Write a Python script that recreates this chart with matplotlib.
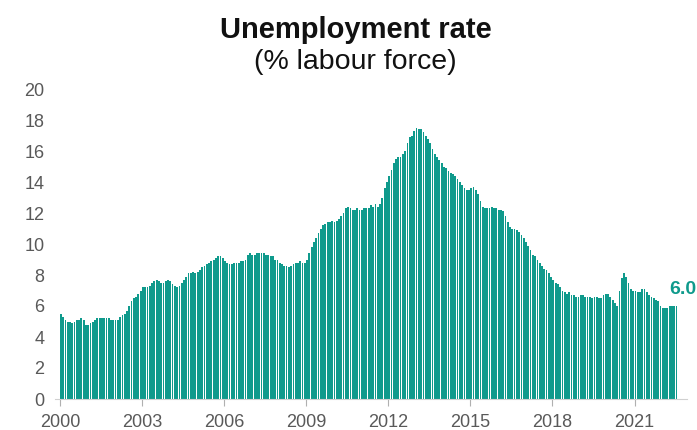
import matplotlib
matplotlib.use("Agg")
import matplotlib.pyplot as plt
import numpy as np

plt.rcParams['font.family'] = ['Liberation Sans', 'DejaVu Sans']

# monthly unemployment rate, Jan 2000 - Jul 2022 (% labour force)
rate_2000 = [5.5, 5.3, 5.1, 5.0, 5.0, 4.9, 5.0, 5.1, 5.1, 5.2, 5.1, 4.8]
rate_2001 = [4.8, 4.9, 5.0, 5.1, 5.2, 5.2, 5.2, 5.2, 5.2, 5.2, 5.1, 5.1]
rate_2002 = [5.1, 5.1, 5.3, 5.4, 5.5, 5.7, 6.0, 6.3, 6.5, 6.6, 6.8, 7.0]
rate_2003 = [7.2, 7.2, 7.2, 7.3, 7.5, 7.6, 7.7, 7.6, 7.5, 7.5, 7.6, 7.7]
rate_2004 = [7.6, 7.4, 7.3, 7.2, 7.3, 7.5, 7.7, 7.9, 8.1, 8.1, 8.2, 8.1]
rate_2005 = [8.2, 8.3, 8.5, 8.6, 8.7, 8.8, 8.9, 9.0, 9.1, 9.2, 9.2, 9.1]
rate_2006 = [8.9, 8.8, 8.7, 8.7, 8.8, 8.8, 8.8, 8.9, 8.9, 9.0, 9.3, 9.4]
rate_2007 = [9.3, 9.3, 9.4, 9.4, 9.4, 9.4, 9.3, 9.3, 9.2, 9.2, 9.0, 9.0]
rate_2008 = [8.8, 8.7, 8.6, 8.6, 8.5, 8.6, 8.7, 8.8, 8.8, 8.9, 8.8, 8.8]
rate_2009 = [9.0, 9.4, 9.8, 10.1, 10.4, 10.7, 11.0, 11.2, 11.3, 11.4, 11.4, 11.5]
rate_2010 = [11.4, 11.5, 11.6, 11.8, 12.0, 12.3, 12.4, 12.3, 12.2, 12.2, 12.3, 12.2]
rate_2011 = [12.2, 12.3, 12.3, 12.3, 12.5, 12.4, 12.6, 12.4, 12.6, 13.0, 13.6, 14.0]
rate_2012 = [14.4, 14.8, 15.2, 15.5, 15.6, 15.6, 15.8, 16.0, 16.5, 16.9, 17.0, 17.3]
rate_2013 = [17.5, 17.4, 17.4, 17.2, 17.0, 16.8, 16.5, 16.1, 15.8, 15.6, 15.4, 15.2]
rate_2014 = [15.0, 14.9, 14.7, 14.6, 14.5, 14.4, 14.2, 14.0, 13.8, 13.6, 13.5, 13.5]
rate_2015 = [13.6, 13.7, 13.5, 13.2, 12.8, 12.4, 12.3, 12.3, 12.3, 12.4, 12.3, 12.3]
rate_2016 = [12.2, 12.2, 12.1, 11.8, 11.4, 11.1, 11.0, 11.0, 10.9, 10.8, 10.6, 10.4]
rate_2017 = [10.1, 9.9, 9.6, 9.3, 9.2, 9.0, 8.8, 8.6, 8.4, 8.3, 8.1, 7.9]
rate_2018 = [7.7, 7.5, 7.4, 7.2, 7.0, 6.9, 6.8, 6.9, 6.7, 6.7, 6.6, 6.6]
rate_2019 = [6.7, 6.7, 6.6, 6.6, 6.6, 6.5, 6.6, 6.6, 6.5, 6.5, 6.7, 6.8]
rate_2020 = [6.8, 6.6, 6.4, 6.2, 6.0, 7.0, 7.8, 8.1, 7.9, 7.5, 7.1, 7.0]
rate_2021 = [7.0, 6.9, 6.9, 7.1, 7.1, 6.9, 6.7, 6.6, 6.5, 6.4, 6.3, 6.0]
rate_2022 = [5.9, 5.9, 5.9, 6.0, 6.0, 6.0, 6.0]

year_labels = ['2000', '2003', '2006', '2009', '2012', '2015', '2018', '2021']
y_ticks = [0, 2, 4, 6, 8, 10, 12, 14, 16, 18, 20]

rates = (rate_2000 + rate_2001 + rate_2002 + rate_2003 + rate_2004 + rate_2005
         + rate_2006 + rate_2007 + rate_2008 + rate_2009 + rate_2010 + rate_2011
         + rate_2012 + rate_2013 + rate_2014 + rate_2015 + rate_2016 + rate_2017
         + rate_2018 + rate_2019 + rate_2020 + rate_2021 + rate_2022)
months = np.arange(len(rates))

teal = '#0f9a8c'
grey = '#595959'

fig = plt.figure(figsize=(6.97, 4.30), dpi=100)
ax = fig.add_axes([55.4 / 697, 31 / 430, (687 - 55.4) / 697, 310 / 430])

ax.bar(months, rates, width=0.78, align='edge', color=teal, linewidth=0)

ax.set_xlim(-2, 275)
ax.set_ylim(0, 20)
ax.set_yticks(y_ticks)
ax.set_xticks([i * 36 for i in range(len(year_labels))])
ax.set_xticklabels(year_labels)

for side in ['left', 'right', 'top']:
    ax.spines[side].set_visible(False)
ax.spines['bottom'].set_color('#d0d0d0')
ax.tick_params(axis='y', length=0, labelsize=13, labelcolor=grey, pad=8)
ax.tick_params(axis='x', length=5, color='#b0b0b0', labelsize=13, labelcolor=grey, pad=6)

ax.text(months[-1] + 3, rates[-1] + 0.5, f'{rates[-1]:.1f}', color=teal,
        fontsize=14, fontweight='bold', ha='center', va='bottom')

fig.text(0.51, 0.93, 'Unemployment rate', ha='center', va='center',
         fontsize=21, fontweight='bold', color='#111111')
fig.text(0.51, 0.855, '(% labour force)', ha='center', va='center',
         fontsize=20.5, color='#111111')

fig.savefig('out.png', dpi=100)
